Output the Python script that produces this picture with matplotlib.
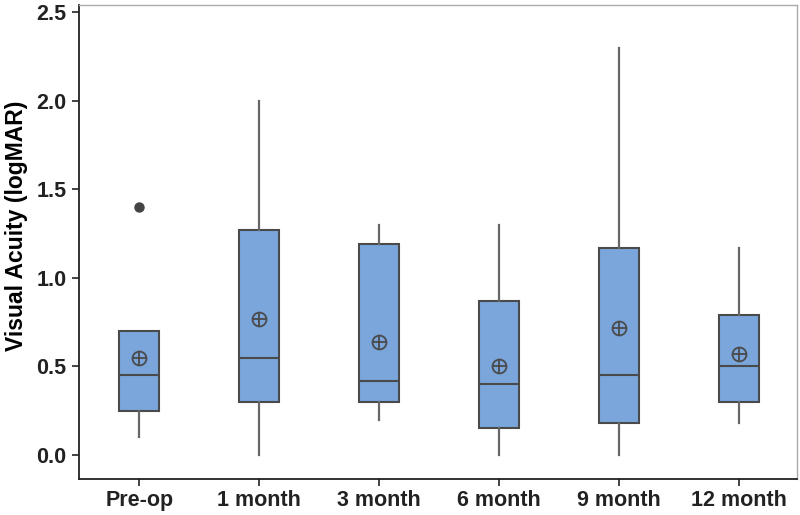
import matplotlib
matplotlib.use('Agg')
import matplotlib.pyplot as plt

# values (logMAR)
labels = ['Pre-op', '1 month', '3 month', '6 month', '9 month', '12 month']
whislo = [0.10, 0.00, 0.20, 0.00, 0.00, 0.18]
q1     = [0.25, 0.30, 0.30, 0.15, 0.18, 0.30]
med    = [0.45, 0.55, 0.42, 0.40, 0.45, 0.50]
q3     = [0.70, 1.27, 1.19, 0.87, 1.17, 0.79]
whishi = [0.70, 2.00, 1.30, 1.30, 2.30, 1.17]
means  = [0.55, 0.77, 0.64, 0.50, 0.72, 0.57]
fliers = [[1.40], [], [], [], [], []]

plt.rcParams['font.family'] = ['Liberation Sans', 'DejaVu Sans']
plt.rcParams['font.weight'] = 'bold'

fig = plt.figure(figsize=(8, 5.15), dpi=100)
ax = fig.add_axes([0.099, 0.070, 0.897, 0.920])

stats = []
for i in range(len(labels)):
    stats.append({'label': labels[i], 'whislo': whislo[i], 'q1': q1[i],
                  'med': med[i], 'q3': q3[i], 'whishi': whishi[i],
                  'mean': means[i], 'fliers': fliers[i]})

pos = list(range(1, len(labels) + 1))
edge = '#4a4a4a'
ax.bxp(stats, positions=pos, widths=0.33, patch_artist=True,
       showcaps=False, showmeans=False,
       boxprops=dict(facecolor='#7aa6dc', edgecolor=edge, linewidth=1.5),
       medianprops=dict(color=edge, linewidth=1.5),
       whiskerprops=dict(color='#666666', linewidth=1.6),
       flierprops=dict(marker='o', markerfacecolor='#444444',
                       markeredgecolor='#444444', markersize=6.5))

# mean markers: circle with cross
ax.plot(pos, means, linestyle='none', marker='o', markersize=10,
        markerfacecolor='none', markeredgecolor=edge, markeredgewidth=1.3, zorder=5)
ax.plot(pos, means, linestyle='none', marker='+', markersize=10,
        markeredgecolor=edge, markeredgewidth=1.3, zorder=5)

ax.set_xlim(0.5, 6.48)
ax.set_ylim(-0.135, 2.54)
ax.set_yticks([0.0, 0.5, 1.0, 1.5, 2.0, 2.5])
ax.set_yticklabels(['0.0', '0.5', '1.0', '1.5', '2.0', '2.5'])
ax.set_xticks(pos)
ax.set_xticklabels(labels)
ax.tick_params(axis='both', direction='out', length=5, width=1.2,
               labelsize=15.5, colors='#222222')
ax.tick_params(axis='y', pad=4)
ax.tick_params(axis='x', pad=3)
ax.set_ylabel('Visual Acuity (logMAR)', fontsize=16.5, fontweight='bold')
ax.yaxis.set_label_coords(-0.071, 0.534)

for s in ['left', 'bottom']:
    ax.spines[s].set_color('#222222')
    ax.spines[s].set_linewidth(1.3)
for s in ['top', 'right']:
    ax.spines[s].set_color('#aaaaaa')
    ax.spines[s].set_linewidth(1.0)

fig.savefig('out.png', dpi=100)
